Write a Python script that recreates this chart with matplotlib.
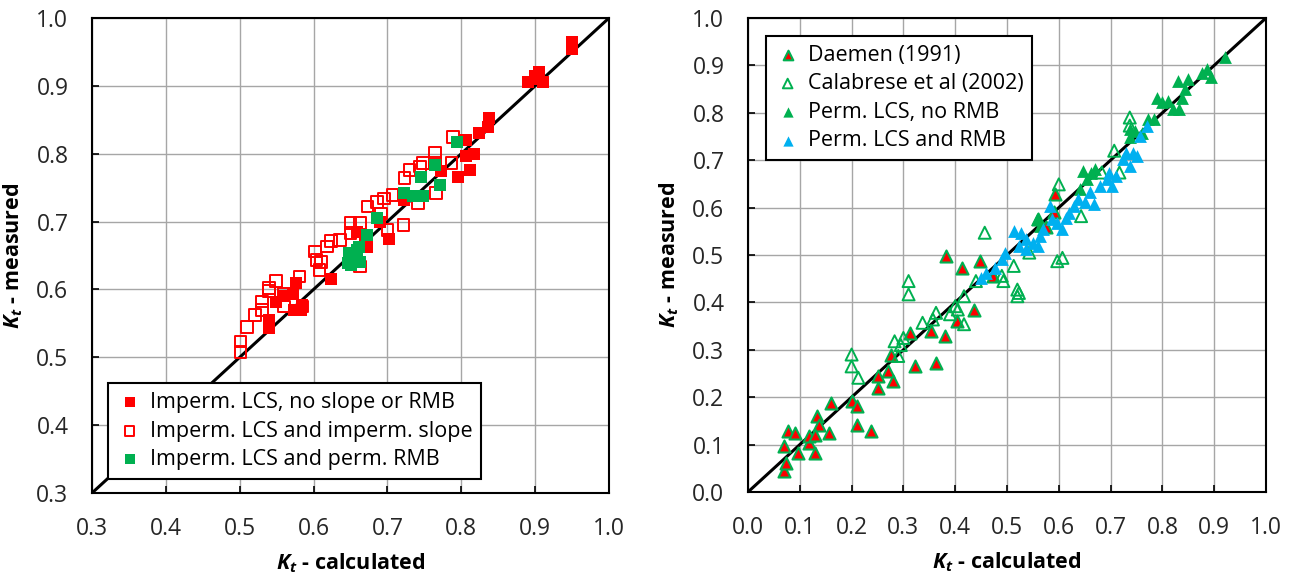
import numpy as np
import matplotlib
matplotlib.use("Agg")
import matplotlib.pyplot as plt

plt.rcParams['font.family'] = ['Open Sans', 'DejaVu Sans']
plt.rcParams['mathtext.fontset'] = 'custom'
plt.rcParams['mathtext.bfit'] = 'Open Sans:italic:bold'
plt.rcParams['mathtext.it'] = 'Open Sans:italic'

# ---- left panel data (impermeable LCS) ----
noslope_x = [0.950, 0.950, 0.890, 0.900, 0.905, 0.910, 0.900, 0.838, 0.836, 0.824,
             0.806, 0.817, 0.806, 0.812, 0.796, 0.773, 0.723, 0.702, 0.673, 0.659,
             0.624, 0.576, 0.572, 0.549, 0.560, 0.540, 0.540, 0.574, 0.585, 0.583,
             0.690, 0.670]
noslope_y = [0.955, 0.965, 0.905, 0.910, 0.920, 0.905, 0.915, 0.852, 0.840, 0.830,
             0.820, 0.800, 0.796, 0.776, 0.766, 0.774, 0.732, 0.675, 0.663, 0.685,
             0.616, 0.609, 0.594, 0.582, 0.590, 0.555, 0.543, 0.570, 0.577, 0.570,
             0.700, 0.670]

slope_x = [0.501, 0.501, 0.510, 0.521, 0.530, 0.540, 0.549, 0.540, 0.560, 0.581,
           0.585, 0.602, 0.604, 0.618, 0.624, 0.608, 0.636, 0.650, 0.663, 0.650,
           0.663, 0.673, 0.686, 0.695, 0.700, 0.722, 0.707, 0.723, 0.730, 0.744,
           0.748, 0.764, 0.764, 0.766, 0.741, 0.787, 0.789, 0.691, 0.560, 0.530,
           0.610]
slope_y = [0.508, 0.523, 0.545, 0.562, 0.582, 0.602, 0.612, 0.598, 0.594, 0.619,
           0.575, 0.656, 0.643, 0.663, 0.671, 0.629, 0.673, 0.698, 0.698, 0.683,
           0.634, 0.722, 0.729, 0.734, 0.688, 0.695, 0.739, 0.764, 0.776, 0.781,
           0.786, 0.801, 0.786, 0.742, 0.727, 0.786, 0.825, 0.712, 0.575, 0.570,
           0.640]

rmb_x = [0.794, 0.764, 0.746, 0.771, 0.723, 0.734, 0.748, 0.686, 0.673, 0.648,
         0.646, 0.659, 0.663, 0.650, 0.661]
rmb_y = [0.818, 0.784, 0.766, 0.754, 0.742, 0.737, 0.737, 0.705, 0.680, 0.653,
         0.639, 0.658, 0.641, 0.636, 0.662]

# ---- right panel data (permeable LCS) ----
daemen_x = [0.070, 0.073, 0.070, 0.077, 0.090, 0.097, 0.117, 0.117, 0.130, 0.133,
            0.137, 0.130, 0.157, 0.160, 0.200, 0.210, 0.210, 0.237, 0.250, 0.250,
            0.270, 0.280, 0.277, 0.313, 0.323, 0.363, 0.353, 0.380, 0.403, 0.437,
            0.383, 0.413, 0.447, 0.473, 0.560, 0.593, 0.575, 0.590]
daemen_y = [0.044, 0.061, 0.096, 0.128, 0.125, 0.082, 0.104, 0.118, 0.082, 0.160,
            0.142, 0.121, 0.125, 0.188, 0.192, 0.181, 0.142, 0.128, 0.220, 0.244,
            0.255, 0.234, 0.290, 0.336, 0.265, 0.273, 0.339, 0.329, 0.361, 0.385,
            0.498, 0.473, 0.487, 0.456, 0.575, 0.628, 0.560, 0.590]

calab_x = [0.200, 0.200, 0.213, 0.290, 0.283, 0.295, 0.300, 0.310, 0.310, 0.337,
           0.357, 0.363, 0.390, 0.400, 0.405, 0.417, 0.417, 0.457, 0.440, 0.490,
           0.493, 0.513, 0.520, 0.523, 0.520, 0.543, 0.597, 0.607, 0.600, 0.643,
           0.707, 0.683, 0.717, 0.737, 0.737]
calab_y = [0.290, 0.265, 0.241, 0.287, 0.318, 0.310, 0.325, 0.417, 0.445, 0.357,
           0.364, 0.378, 0.375, 0.392, 0.385, 0.354, 0.413, 0.547, 0.445, 0.456,
           0.445, 0.477, 0.427, 0.420, 0.413, 0.505, 0.487, 0.494, 0.649, 0.582,
           0.720, 0.674, 0.674, 0.790, 0.773]

perm_x = [0.920, 0.887, 0.893, 0.877, 0.830, 0.850, 0.843, 0.837, 0.820, 0.833,
          0.790, 0.800, 0.810, 0.783, 0.773, 0.737, 0.747, 0.760, 0.737, 0.647,
          0.663, 0.670, 0.655, 0.640, 0.557, 0.563]
perm_y = [0.917, 0.892, 0.875, 0.885, 0.868, 0.871, 0.850, 0.832, 0.808, 0.808,
          0.832, 0.822, 0.825, 0.787, 0.787, 0.765, 0.762, 0.758, 0.748, 0.677,
          0.674, 0.681, 0.660, 0.639, 0.575, 0.561]

permrmb_x = [0.450, 0.460, 0.477, 0.490, 0.497, 0.513, 0.527, 0.523, 0.537, 0.550,
             0.537, 0.563, 0.560, 0.570, 0.583, 0.587, 0.597, 0.607, 0.613, 0.620,
             0.630, 0.637, 0.650, 0.660, 0.667, 0.680, 0.693, 0.703, 0.710, 0.723,
             0.730, 0.743, 0.750, 0.757, 0.770, 0.737, 0.697]
permrmb_y = [0.452, 0.463, 0.473, 0.491, 0.505, 0.551, 0.547, 0.519, 0.533, 0.526,
             0.512, 0.540, 0.519, 0.554, 0.604, 0.575, 0.568, 0.554, 0.579, 0.589,
             0.604, 0.618, 0.611, 0.632, 0.607, 0.646, 0.660, 0.646, 0.667, 0.702,
             0.716, 0.716, 0.709, 0.751, 0.773, 0.688, 0.674]

red = '#FF0000'
green = '#00B050'
blue = '#00B0F0'

fig = plt.figure(figsize=(12.93, 5.75), dpi=100)
axL = fig.add_axes([92/1293, 82/575, 517/1293, 475/575])
axR = fig.add_axes([748/1293, 83/575, 518/1293, 474/575])


def style_axes(ax, lo):
    ticks = np.round(np.arange(lo, 1.0001, 0.1), 1)
    ax.set_xlim(lo, 1.0)
    ax.set_ylim(lo, 1.0)
    ax.set_xticks(ticks)
    ax.set_yticks(ticks)
    ax.set_xticklabels([f'{t:.1f}' for t in ticks])
    ax.set_yticklabels([f'{t:.1f}' for t in ticks])
    ax.grid(True, color='#A6A6A6', linewidth=1.0)
    ax.set_axisbelow(True)
    ax.tick_params(direction='in', length=5, width=1.2, labelsize=16.5,
                   pad=17, colors='black', labelcolor='#262626')
    for s in ax.spines.values():
        s.set_linewidth(1.5)
        s.set_color('black')
    ax.plot([lo, 1.0], [lo, 1.0], color='black', linewidth=2.2, zorder=2)
    ax.set_xlabel(r'$\mathbfit{K}_{\mathbfit{t}}$' + ' - calculated',
                  fontsize=15.5, fontweight='bold', labelpad=8)
    ax.set_ylabel(r'$\mathbfit{K}_{\mathbfit{t}}$' + ' - measured',
                  fontsize=15.5, fontweight='bold', labelpad=8)


style_axes(axL, 0.3)
style_axes(axR, 0.0)

leg_kw = dict(borderaxespad=0, fontsize=15.5, frameon=True, fancybox=False,
              edgecolor='black', framealpha=1, handletextpad=0.35,
              handlelength=1.2, labelspacing=0.35, markerscale=0.8,
              borderpad=0.4)

# left panel
axL.scatter(noslope_x, noslope_y, marker='s', s=70, color=red, linewidths=0,
            label='Imperm. LCS, no slope or RMB', zorder=3)
axL.scatter(slope_x, slope_y, marker='s', s=70, facecolors='none', edgecolors=red,
            linewidths=1.4, label='Imperm. LCS and imperm. slope', zorder=3)
axL.scatter(rmb_x, rmb_y, marker='s', s=70, color=green, linewidths=0,
            label='Imperm. LCS and perm. RMB', zorder=3)
legL = axL.legend(loc='lower left', bbox_to_anchor=(0.031, 0.03), **leg_kw)
legL.get_frame().set_linewidth(1.5)
legL.set_zorder(5)

# right panel
axR.scatter(daemen_x, daemen_y, marker='^', s=75, facecolors=red, edgecolors=green,
            linewidths=1.5, label='Daemen (1991)', zorder=3)
axR.scatter(calab_x, calab_y, marker='^', s=75, facecolors='none', edgecolors=green,
            linewidths=1.4, label='Calabrese et al (2002)', zorder=3)
axR.scatter(perm_x, perm_y, marker='^', s=85, color=green, linewidths=0,
            label='Perm. LCS, no RMB', zorder=3)
axR.scatter(permrmb_x, permrmb_y, marker='^', s=85, color=blue, linewidths=0,
            label='Perm. LCS and RMB', zorder=3)
legR = axR.legend(loc='upper left', bbox_to_anchor=(0.035, 0.962), **leg_kw)
legR.get_frame().set_linewidth(1.5)
legR.set_zorder(5)

fig.savefig('out.png', dpi=100)
